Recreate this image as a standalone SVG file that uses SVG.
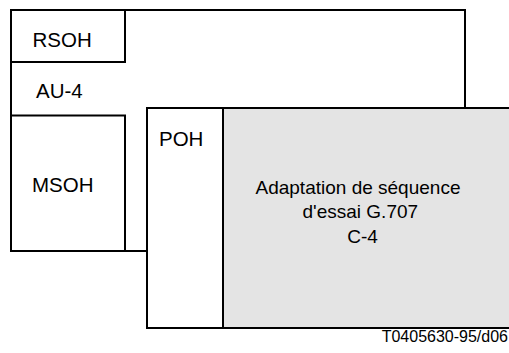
<svg xmlns="http://www.w3.org/2000/svg" width="509" height="353" viewBox="0 0 509 353">
<style>
.box{fill:#ffffff;stroke:#000000;stroke-width:2}
.gray{fill:#e4e4e4;stroke:#000000;stroke-width:2}
.lbl{font-family:"Liberation Sans",Arial,Helvetica,sans-serif;font-size:20.5px;fill:#000000}
.inner{font-family:"Liberation Sans",Arial,Helvetica,sans-serif;font-size:19px;fill:#000000}
.foot{font-family:"Liberation Sans",Arial,Helvetica,sans-serif;font-size:16px;fill:#000000}
</style>
<rect x="0" y="0" width="509" height="353" fill="#ffffff"/>
<g id="au4">
<rect class="box" x="11" y="10" width="454" height="241"/>
<text class="lbl" x="36" y="97.5">AU-4</text>
</g>
<g id="rsoh">
<rect class="box" x="11" y="10" width="114" height="52"/>
<text class="lbl" x="32.5" y="46.5">RSOH</text>
</g>
<g id="msoh">
<rect class="box" x="11" y="115.5" width="114" height="135.5"/>
<text class="lbl" x="32" y="192">MSOH</text>
</g>
<g id="poh">
<rect class="box" x="147" y="108" width="76" height="220"/>
<text class="lbl" x="159" y="145.5">POH</text>
</g>
<g id="c4">
<rect class="gray" x="223" y="108" width="300" height="220"/>
<text class="inner" x="255.5" y="194">Adaptation de séquence</text>
<text class="inner" x="302.5" y="218.3">d'essai G.707</text>
<text class="inner" x="347.3" y="242.6">C-4</text>
</g>
<g id="connectors"></g>
<g id="footer">
<text class="foot" x="508" y="342" text-anchor="end">T0405630-95/d06</text>
</g>
</svg>
